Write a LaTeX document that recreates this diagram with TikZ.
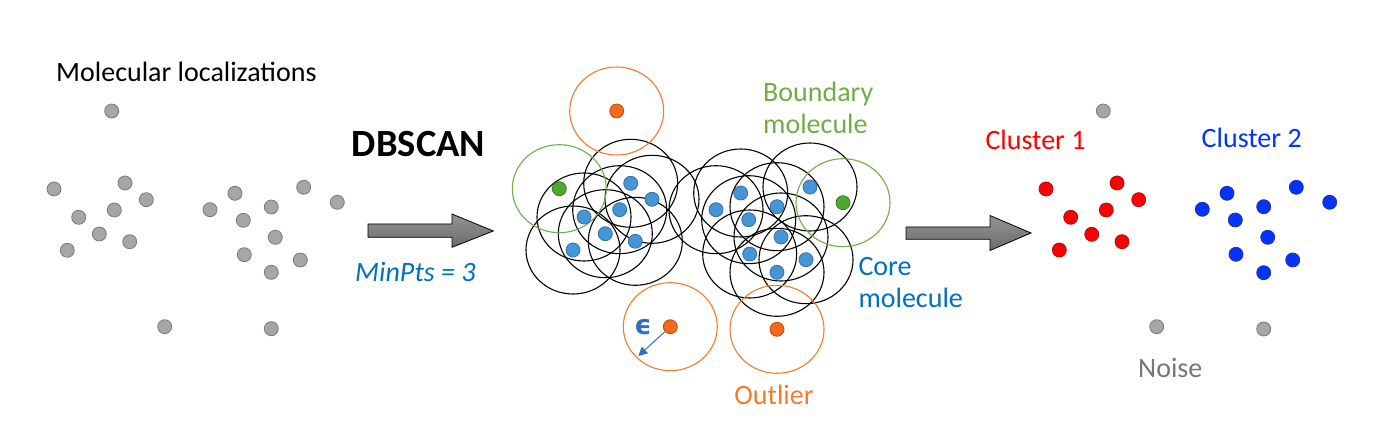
\documentclass[tikz,border=0pt]{standalone}
\usepackage{fontspec}
\setmainfont{Carlito}
\newfontfamily\epsfont{DejaVu Sans}
\usetikzlibrary{arrows.meta}
\definecolor{dgray}{HTML}{A6A6A6}
\definecolor{dgrayline}{HTML}{7A7A7A}
\definecolor{cblue}{HTML}{4596D6}
\definecolor{cblueline}{HTML}{3A6FA0}
\definecolor{corange}{HTML}{F26B1C}
\definecolor{corangeline}{HTML}{B8520F}
\definecolor{ringorange}{HTML}{F47A2E}
\definecolor{cgreen}{HTML}{4EA72E}
\definecolor{cgreenline}{HTML}{3A7D22}
\definecolor{ringgreen}{HTML}{70AD47}
\definecolor{txtblue}{HTML}{0070C0}
\definecolor{txtorange}{HTML}{F47A2E}
\definecolor{cred}{HTML}{FF0000}
\definecolor{credline}{HTML}{B01010}
\definecolor{cbl}{HTML}{0433FF}
\definecolor{cblline}{HTML}{1F35A0}
\definecolor{noisegray}{HTML}{767676}
\definecolor{epsblue}{HTML}{2F6FC8}
\begin{document}
\begin{tikzpicture}[x=1pt,y=-1pt,
  dot/.style={circle,inner sep=0pt,minimum size=14pt,line width=0.8pt},
  graydot/.style={dot,fill=dgray,draw=dgrayline},
  coredot/.style={dot,fill=cblue,draw=cblueline},
  outdot/.style={dot,fill=corange,draw=corangeline},
  bnddot/.style={dot,fill=cgreen,draw=cgreenline},
  reddot/.style={dot,fill=cred,draw=credline},
  bludot/.style={dot,fill=cbl,draw=cblline},
  lbl/.style={inner sep=0pt,anchor=base west,font=\fontsize{28}{32}\selectfont},
  ring/.style={line width=1.1pt},
  blockarrow/.style={draw=black,line width=0.8pt,top color=black!42,bottom color=black!58}
]
\useasboundingbox (0,0) rectangle (1381,446);

% ---------- left panel ----------
\node[lbl] (tmol) at (56,81.7) {Molecular localizations};
\foreach \x/\y [count=\i] in {111.7/111, 54/189, 125/183, 146.3/199.7, 114.3/210, 78.7/217.3, 99.3/234, 129.7/241.7, 67.3/250.3,
  210/209.7, 235/193.3, 271.3/207, 303.7/187.3, 337.3/202.3, 243.3/220.3, 275.3/237.3, 244.3/254.7, 300.3/260, 271.3/272.3,
  164.7/326.7, 271.3/328.7}
  \node[graydot] (L\i) at (\x,\y) {};

% ---------- first arrow ----------
\node[inner sep=0pt,anchor=base,font=\fontsize{38.5}{40}\selectfont\bfseries] (tdb) at (418.5,156.7) {DBSCAN};
\draw[blockarrow] (368,224) -- (452,224) -- (452,214) -- (493.3,231) -- (452,247.3) -- (452,237.3) -- (368,237.3) -- cycle;
\node[lbl,text=txtblue] (tmin) at (355,282) {\itshape MinPts = 3};

% ---------- middle panel ----------
% core points
\foreach \x/\y [count=\i] in {630.7/183.3, 652/199.3, 619.7/209.7, 584/217, 605.3/233.7, 635.3/241.3, 573/250,
  740.7/193, 716/209.7, 810/187, 777/206.7, 748.7/219.7, 781/237, 749.7/254, 806/259.7, 777/272.3}
  \coordinate (C\i) at (\x,\y);
\foreach \i in {1,...,16}
  \draw[ring,black] (C\i) ellipse [x radius=47, y radius=44];
% boundary rings
\coordinate (B1) at (559.3,188.7);
\coordinate (B2) at (843,202.7);
\draw[ring,ringgreen] (B1) ellipse [x radius=47, y radius=44];
\draw[ring,ringgreen] (B2) ellipse [x radius=47, y radius=44];
% outlier rings
\coordinate (O1) at (616.7,111);
\coordinate (O2) at (670.3,326.7);
\coordinate (O3) at (777,329.3);
\foreach \i in {1,2,3}
  \draw[ring,ringorange] (O\i) ellipse [x radius=47, y radius=44];
% dots
\foreach \i in {1,...,16}
  \node[coredot] (c\i) at (C\i) {};
\node[bnddot] (b1) at (B1) {};
\node[bnddot] (b2) at (B2) {};
\foreach \i in {1,2,3}
  \node[outdot] (o\i) at (O\i) {};
% epsilon
\coordinate (epsend) at (638.3,356);
\draw[epsblue,line width=1pt,-{Triangle[length=9pt,width=9pt]}] (o2) -- (epsend);
\node[inner sep=0pt,text=epsblue,font=\epsfont\bfseries\fontsize{27}{30}\selectfont] (teps) at (643,327.5) {ϵ};
% labels
\node[lbl,text=ringgreen] (tb1) at (763,101.7) {Boundary};
\node[lbl,text=ringgreen] (tb2) at (763,134) {molecule};
\node[lbl,text=txtblue] (tc1) at (858.3,276) {Core};
\node[lbl,text=txtblue] (tc2) at (858.3,307) {molecule};
\node[lbl,text=txtorange,anchor=base] (tout) at (774,404.3) {Outlier};

% ---------- second arrow ----------
\draw[blockarrow] (906,227) -- (990,227) -- (990,215.5) -- (1031,233) -- (990,250.5) -- (990,239.3) -- (906,239.3) -- cycle;

% ---------- right panel ----------
\node[lbl,text=cred,anchor=base] (tcl1) at (1035.5,150) {Cluster 1};
\node[lbl,text=cbl,anchor=base] (tcl2) at (1251.7,147.3) {Cluster 2};
\node[lbl,text=noisegray,anchor=base] (tnoise) at (1170.3,377.3) {Noise};
\foreach \x/\y [count=\i] in {1046/189, 1117/183, 1138.7/199.7, 1106.3/210, 1070.7/217.3, 1091.7/234.3, 1122/241.7, 1059.3/250}
  \node[reddot] (r\i) at (\x,\y) {};
\foreach \x/\y [count=\i] in {1202.3/209.3, 1227/193.3, 1263.7/206.7, 1296.3/187.3, 1329.7/202.3, 1235.3/220, 1267.7/237.3, 1236/254.3, 1292.7/260, 1263.7/272.7}
  \node[bludot] (u\i) at (\x,\y) {};
\foreach \x/\y [count=\i] in {1103.3/111, 1156.7/326.7, 1263.7/329}
  \node[graydot] (n\i) at (\x,\y) {};
\end{tikzpicture}
\end{document}
